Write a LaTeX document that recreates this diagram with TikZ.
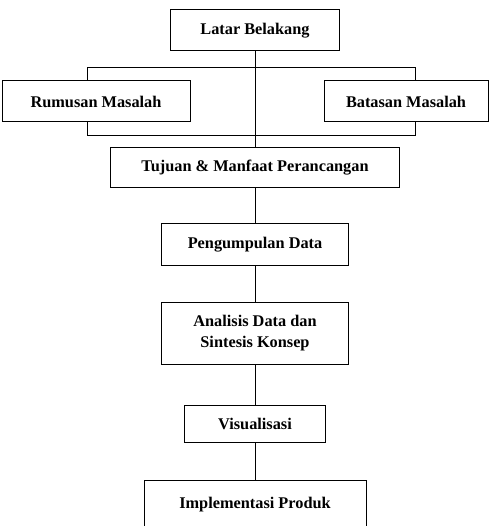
\documentclass[tikz,border=0pt]{standalone}
\usepackage{fontspec}
\setmainfont{Liberation Serif}
\begin{document}
\begin{tikzpicture}[x=1pt, y=1pt, line width=1pt,
  box/.style={draw, font=\fontsize{16.3}{21}\selectfont\bfseries, align=center, inner sep=0pt}]
\useasboundingbox (0,0) rectangle (489,-526);
\node[box, minimum width=169, minimum height=41] (lb) at (255,-30.5) {Latar Belakang};
\node[box, minimum width=188, minimum height=41] (rm) at (96,-101.5) {Rumusan Masalah};
\node[box, minimum width=164, minimum height=41] (bt) at (406,-101.5) {Batasan Masalah};
\node[box, minimum width=289, minimum height=40] (tj) at (255,-168) {Tujuan \& Manfaat Perancangan};
\node[box, minimum width=187, minimum height=41] (pd) at (255,-244.5) {Pengumpulan Data};
\node[box, minimum width=187, minimum height=62] (an) at (255,-333) {Analisis Data dan\\Sintesis Konsep};
\node[box, minimum width=141, minimum height=37] (vs) at (255,-423.5) {Visualisasi};
\node[box, minimum width=222, anchor=north, inner ysep=16, text height=12, text depth=20] (ip) at (255,-480) {Implementasi Produk};
% bracket round the two side boxes
\draw ([xshift=-9]rm.north) -- ++(0,13) -| ([xshift=9]bt.north);
\draw ([xshift=-9]rm.south) -- ++(0,-13) -| ([xshift=9]bt.south);
\draw (lb.south) -- (tj.north);
\draw (tj.south) -- (pd.north);
\draw (pd.south) -- (an.north);
\draw (an.south) -- (vs.north);
\draw (vs.south) -- (ip.north);
\end{tikzpicture}
\end{document}
